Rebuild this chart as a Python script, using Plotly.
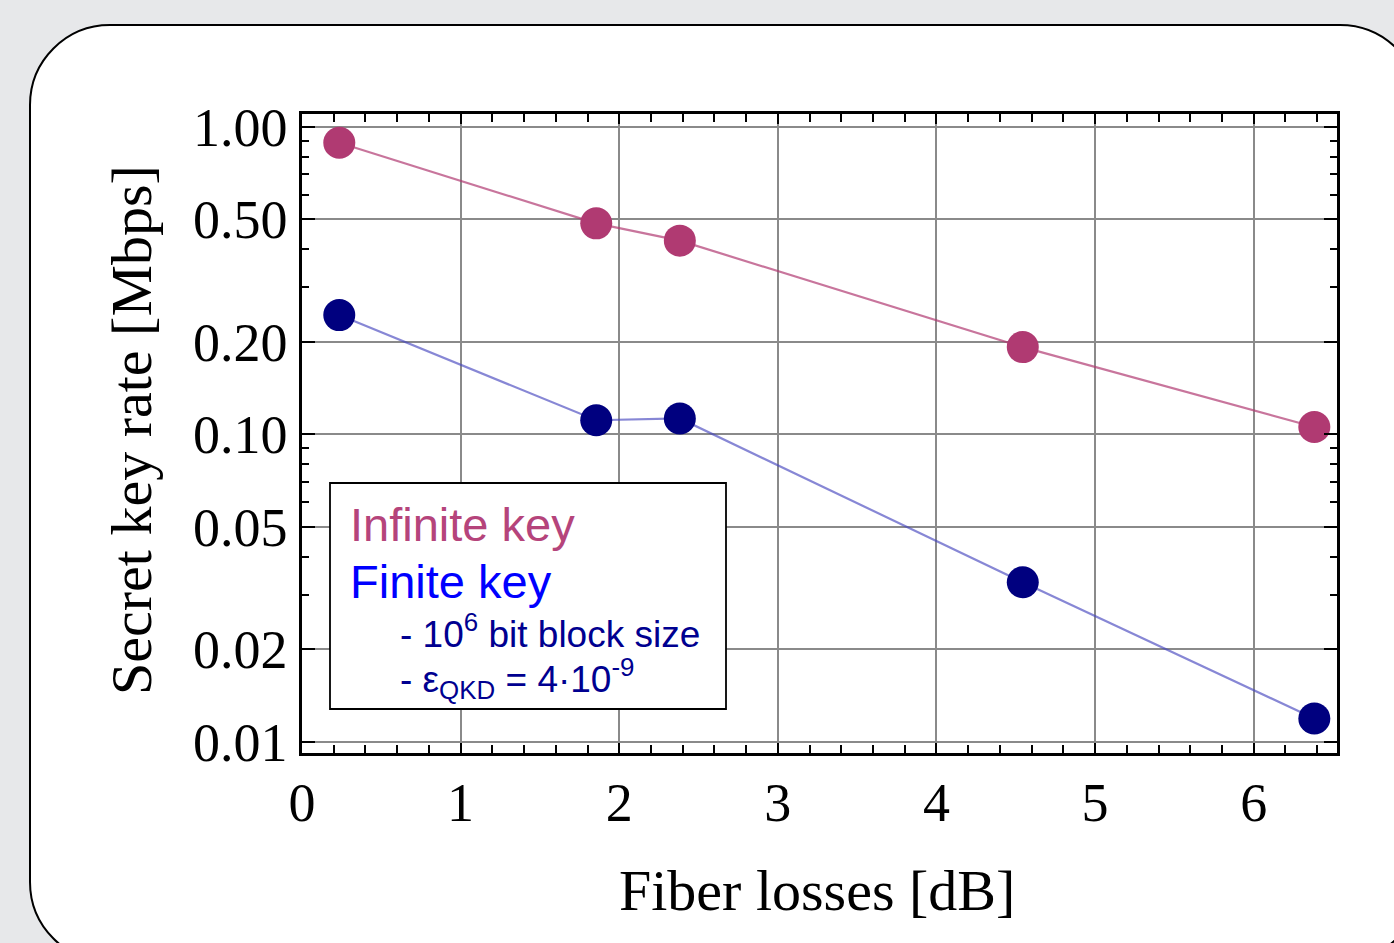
import plotly.graph_objects as go

# ---- data ----
fiber_loss_db = [0.235, 1.855, 2.382, 4.544, 6.382]
infinite_key_mbps = [0.887, 0.485, 0.426, 0.192, 0.1055]
finite_key_mbps = [0.244, 0.111, 0.1125, 0.0330, 0.0119]

y_tickvals = [0.01, 0.02, 0.05, 0.1, 0.2, 0.5, 1.0]
y_ticktext = ["0.01", "0.02", "0.05", "0.10", "0.20", "0.50", "1.00"]
y_minor = [k * 10 ** n for n in (-2, -1) for k in (3, 4, 6, 7, 8, 9)]
x_tickvals = [0, 1, 2, 3, 4, 5, 6]

W, H = 1394, 943
L, R, T, B = 302, 1337, 114, 753


def px(x):
    return (x - L) / (R - L)


def py(y):
    return (B - y) / (B - T)


def rounded_rect_path(x0, y0, x1, y1, r):
    k = 0.5523 * r

    def P(x, y):
        return f"{px(x):.5f},{py(y):.5f}"
    d = f"M {P(x0 + r, y0)} L {P(x1 - r, y0)} "
    d += f"C {P(x1 - r + k, y0)} {P(x1, y0 + r - k)} {P(x1, y0 + r)} "
    d += f"L {P(x1, y1 - r)} "
    d += f"C {P(x1, y1 - r + k)} {P(x1 - r + k, y1)} {P(x1 - r, y1)} "
    d += f"L {P(x0 + r, y1)} "
    d += f"C {P(x0 + r - k, y1)} {P(x0, y1 - r + k)} {P(x0, y1 - r)} "
    d += f"L {P(x0, y0 + r)} "
    d += f"C {P(x0, y0 + r - k)} {P(x0 + r - k, y0)} {P(x0 + r, y0)} Z"
    return d


fig = go.Figure()
fig.add_trace(go.Scatter(
    x=fiber_loss_db, y=infinite_key_mbps, mode="lines+markers",
    line=dict(color="rgba(176,58,114,0.7)", width=2.2),
    marker=dict(color="#b03a72", size=32, line=dict(width=0)),
    showlegend=False, name="Infinite key"))
fig.add_trace(go.Scatter(
    x=fiber_loss_db, y=finite_key_mbps, mode="lines+markers",
    line=dict(color="rgba(70,70,190,0.65)", width=2.2),
    marker=dict(color="#00007f", size=32, line=dict(width=0)),
    showlegend=False, name="Finite key"))

serif = "Liberation Serif, Times New Roman, serif"
sans = "Liberation Sans, Arial, sans-serif"

fig.update_layout(
    width=W, height=H,
    margin=dict(l=L, r=W - R, t=T, b=H - B),
    paper_bgcolor="#e7e8ea",
    plot_bgcolor="rgba(0,0,0,0)",
    xaxis=dict(
        range=[0, 6.525], tickvals=x_tickvals, ticktext=[str(v) for v in x_tickvals],
        showgrid=True, gridcolor="#8a8a8a", gridwidth=2,
        showline=True, linecolor="black", linewidth=2.5, mirror="allticks",
        ticks="inside", ticklen=10, tickwidth=2, tickcolor="black",
        minor=dict(dtick=0.2, ticks="inside", ticklen=8, tickwidth=2, tickcolor="black", showgrid=False),
        tickfont=dict(family=serif, size=54, color="black"),
        ticklabelstandoff=0,
        zeroline=False,
    ),
    yaxis=dict(
        type="log", range=[-2.0367, 0.0413],
        tickvals=y_tickvals, ticktext=y_ticktext,
        showgrid=True, gridcolor="#8a8a8a", gridwidth=2,
        showline=True, linecolor="black", linewidth=2.5, mirror="allticks",
        ticks="inside", ticklen=13, tickwidth=2, tickcolor="black",
        minor=dict(tickvals=y_minor, ticks="inside", ticklen=7, tickwidth=2, tickcolor="black", showgrid=False),
        tickfont=dict(family=serif, size=54, color="black"),
        ticklabelstandoff=1,
        zeroline=False,
    ),
    shapes=[
        dict(type="path", xref="paper", yref="paper", layer="below",
             path=rounded_rect_path(30, 25, 1420, 962, 80),
             fillcolor="white", line=dict(color="black", width=2)),
        dict(type="rect", xref="paper", yref="paper", layer="above",
             x0=px(330), x1=px(726), y0=py(709), y1=py(483),
             fillcolor="white", line=dict(color="black", width=1.8)),
    ],
    annotations=[
        dict(xref="paper", yref="paper", x=px(817), y=py(890), text="Fiber losses [dB]",
             showarrow=False, xanchor="center", yanchor="middle",
             font=dict(family=serif, size=58, color="black")),
        dict(xref="paper", yref="paper", x=px(131), y=py(430), text="Secret key rate [Mbps]",
             showarrow=False, xanchor="center", yanchor="middle", textangle=-90,
             font=dict(family=serif, size=58, color="black")),
        dict(xref="paper", yref="paper", x=px(348), y=py(524), text="Infinite key",
             showarrow=False, xanchor="left", yanchor="middle",
             font=dict(family=sans, size=47, color="#b5447b")),
        dict(xref="paper", yref="paper", x=px(348), y=py(581), text="Finite key",
             showarrow=False, xanchor="left", yanchor="middle",
             font=dict(family=sans, size=47, color="#0000ff")),
        dict(xref="paper", yref="paper", x=px(398), y=py(631), text="- 10<sup>6</sup> bit block size",
             showarrow=False, xanchor="left", yanchor="middle",
             font=dict(family=sans, size=37, color="#000090")),
        dict(xref="paper", yref="paper", x=px(398), y=py(678), text="- ε<sub>QKD</sub> = 4·10<sup>-9</sup>",
             showarrow=False, xanchor="left", yanchor="middle",
             font=dict(family=sans, size=37, color="#000090")),
    ],
)

fig.write_html("out.html", config={"displayModeBar": False},
               post_script="document.body.style.margin='0';document.body.style.overflow='hidden';")
